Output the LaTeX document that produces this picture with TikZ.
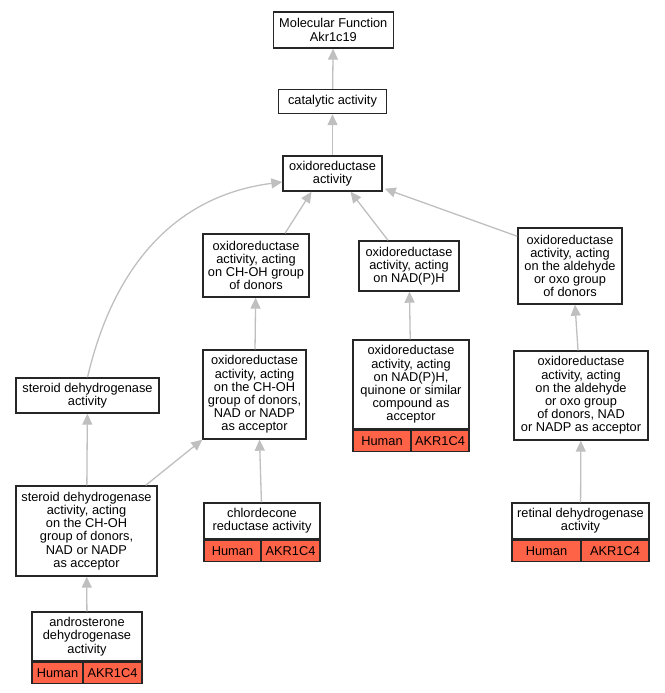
\documentclass[tikz,border=0pt]{standalone}
\usepackage{fontspec}
\setmainfont{Liberation Sans}
\usepackage{tikz}
\usetikzlibrary{arrows, arrows.meta, shapes, positioning}
\definecolor{genered}{RGB}{255,99,71}

\begin{document}
\begin{tikzpicture}[x=1pt, y=-1pt]
		\tikzset{term/.style={draw=black!85, line width=1.4pt, fill=white, align=center, inner sep=2pt, font=\fontsize{12.8}{13.2}\selectfont}}
		\tikzset{gene/.style={term, fill=genered, minimum height=21pt}}
		\tikzset{isa/.style={-{Triangle[length=11pt, width=10pt]}, draw=black!25, line width=1.3pt}}
		\useasboundingbox (0,0) rectangle (664,693);
		% terms
		\node[term, minimum width=120, minimum height=36] at (333.3, 30.0) (mf) {Molecular Function\\Akr1c19};
		\node[term, minimum width=108, minimum height=24] at (332.5, 101.5) (cat) {catalytic activity};
		\node[term, minimum width=99, minimum height=35] at (332.5, 173.5) (ox) {oxidoreductase\\activity};
		\node[term, minimum width=106, minimum height=63] at (256.0, 265.5) (choh) {oxidoreductase\\activity, acting\\on CH-OH group\\of donors};
		\node[term, minimum width=100, minimum height=50] at (409.0, 266.0) (nadph) {oxidoreductase\\activity, acting\\on NAD(P)H};
		\node[term, minimum width=104, minimum height=76] at (570.0, 266.0) (ald) {oxidoreductase\\activity, acting\\on the aldehyde\\or oxo group\\of donors};
		\node[term, minimum width=103, minimum height=89] at (254.5, 394.5) (chohnad) {oxidoreductase\\activity, acting\\on the CH-OH\\group of donors,\\NAD or NADP\\as acceptor};
		\node[term, minimum width=143, minimum height=35] at (87.5, 395.5) (ster) {steroid dehydrogenase\\activity};
		\node[term, minimum width=134, minimum height=89] at (581.0, 395.5) (aldnad) {oxidoreductase\\activity, acting\\on the aldehyde\\or oxo group\\of donors, NAD\\or NADP as acceptor};
		\node[term, minimum width=141, minimum height=90] at (86.5, 531.0) (sternad) {steroid dehydrogenase\\activity, acting\\on the CH-OH\\group of donors,\\NAD or NADP\\as acceptor};
		% annotated terms
		\node[term, minimum width=116, minimum height=89] at (411.0, 384.5) (quin) {oxidoreductase\\activity, acting\\on NAD(P)H,\\quinone or similar\\compound as\\acceptor};
		\node[gene, anchor=north west, minimum width=58] at (quin.south west) (quinh) {Human};
		\node[gene, anchor=north east, minimum width=58] at (quin.south east) (quing) {AKR1C4};
		\node[term, minimum width=116, minimum height=36] at (262.0, 521.0) (chl) {chlordecone\\reductase activity};
		\node[gene, anchor=north west, minimum width=57] at (chl.south west) (chlh) {Human};
		\node[gene, anchor=north east, minimum width=59] at (chl.south east) (chlg) {AKR1C4};
		\node[term, minimum width=137, minimum height=36] at (580.5, 521.0) (ret) {retinal dehydrogenase\\activity};
		\node[gene, anchor=north west, minimum width=69] at (ret.south west) (reth) {Human};
		\node[gene, anchor=north east, minimum width=68] at (ret.south east) (retg) {AKR1C4};
		\node[term, minimum width=110, minimum height=49] at (87.0, 636.5) (andro) {androsterone\\dehydrogenase\\activity};
		\node[gene, anchor=north west, minimum width=51] at (andro.south west) (androh) {Human};
		\node[gene, anchor=north east, minimum width=59] at (andro.south east) (androg) {AKR1C4};
		% is_a links
		\draw[isa] (cat) -- (mf);
		\draw[isa] (ox) -- (cat);
		\draw[isa] ([xshift=29]choh.north) -- ([xshift=-21]ox.south);
		\draw[isa] ([xshift=-21]nadph.north) -- ([xshift=18]ox.south);
		\draw[isa] ([yshift=-9]ald.north west) -- ([xshift=2, yshift=3]ox.south east);
		\draw[isa] (ster.north) .. controls (115, 260) and (180, 195) .. ([yshift=-8.5]ox.west);
		\draw[isa] (chohnad) -- (choh);
		\draw[isa] (quin) -- (nadph);
		\draw[isa] (aldnad) -- ([xshift=5]ald.south);
		\draw[isa] (sternad) -- (ster);
		\draw[isa] ([xshift=-12]sternad.north east) -- (chohnad.south west);
		\draw[isa] (chl) -- ([xshift=5]chohnad.south);
		\draw[isa] (andro) -- (sternad);
		\draw[isa] (ret) -- (aldnad);
	\end{tikzpicture}
\end{document}
